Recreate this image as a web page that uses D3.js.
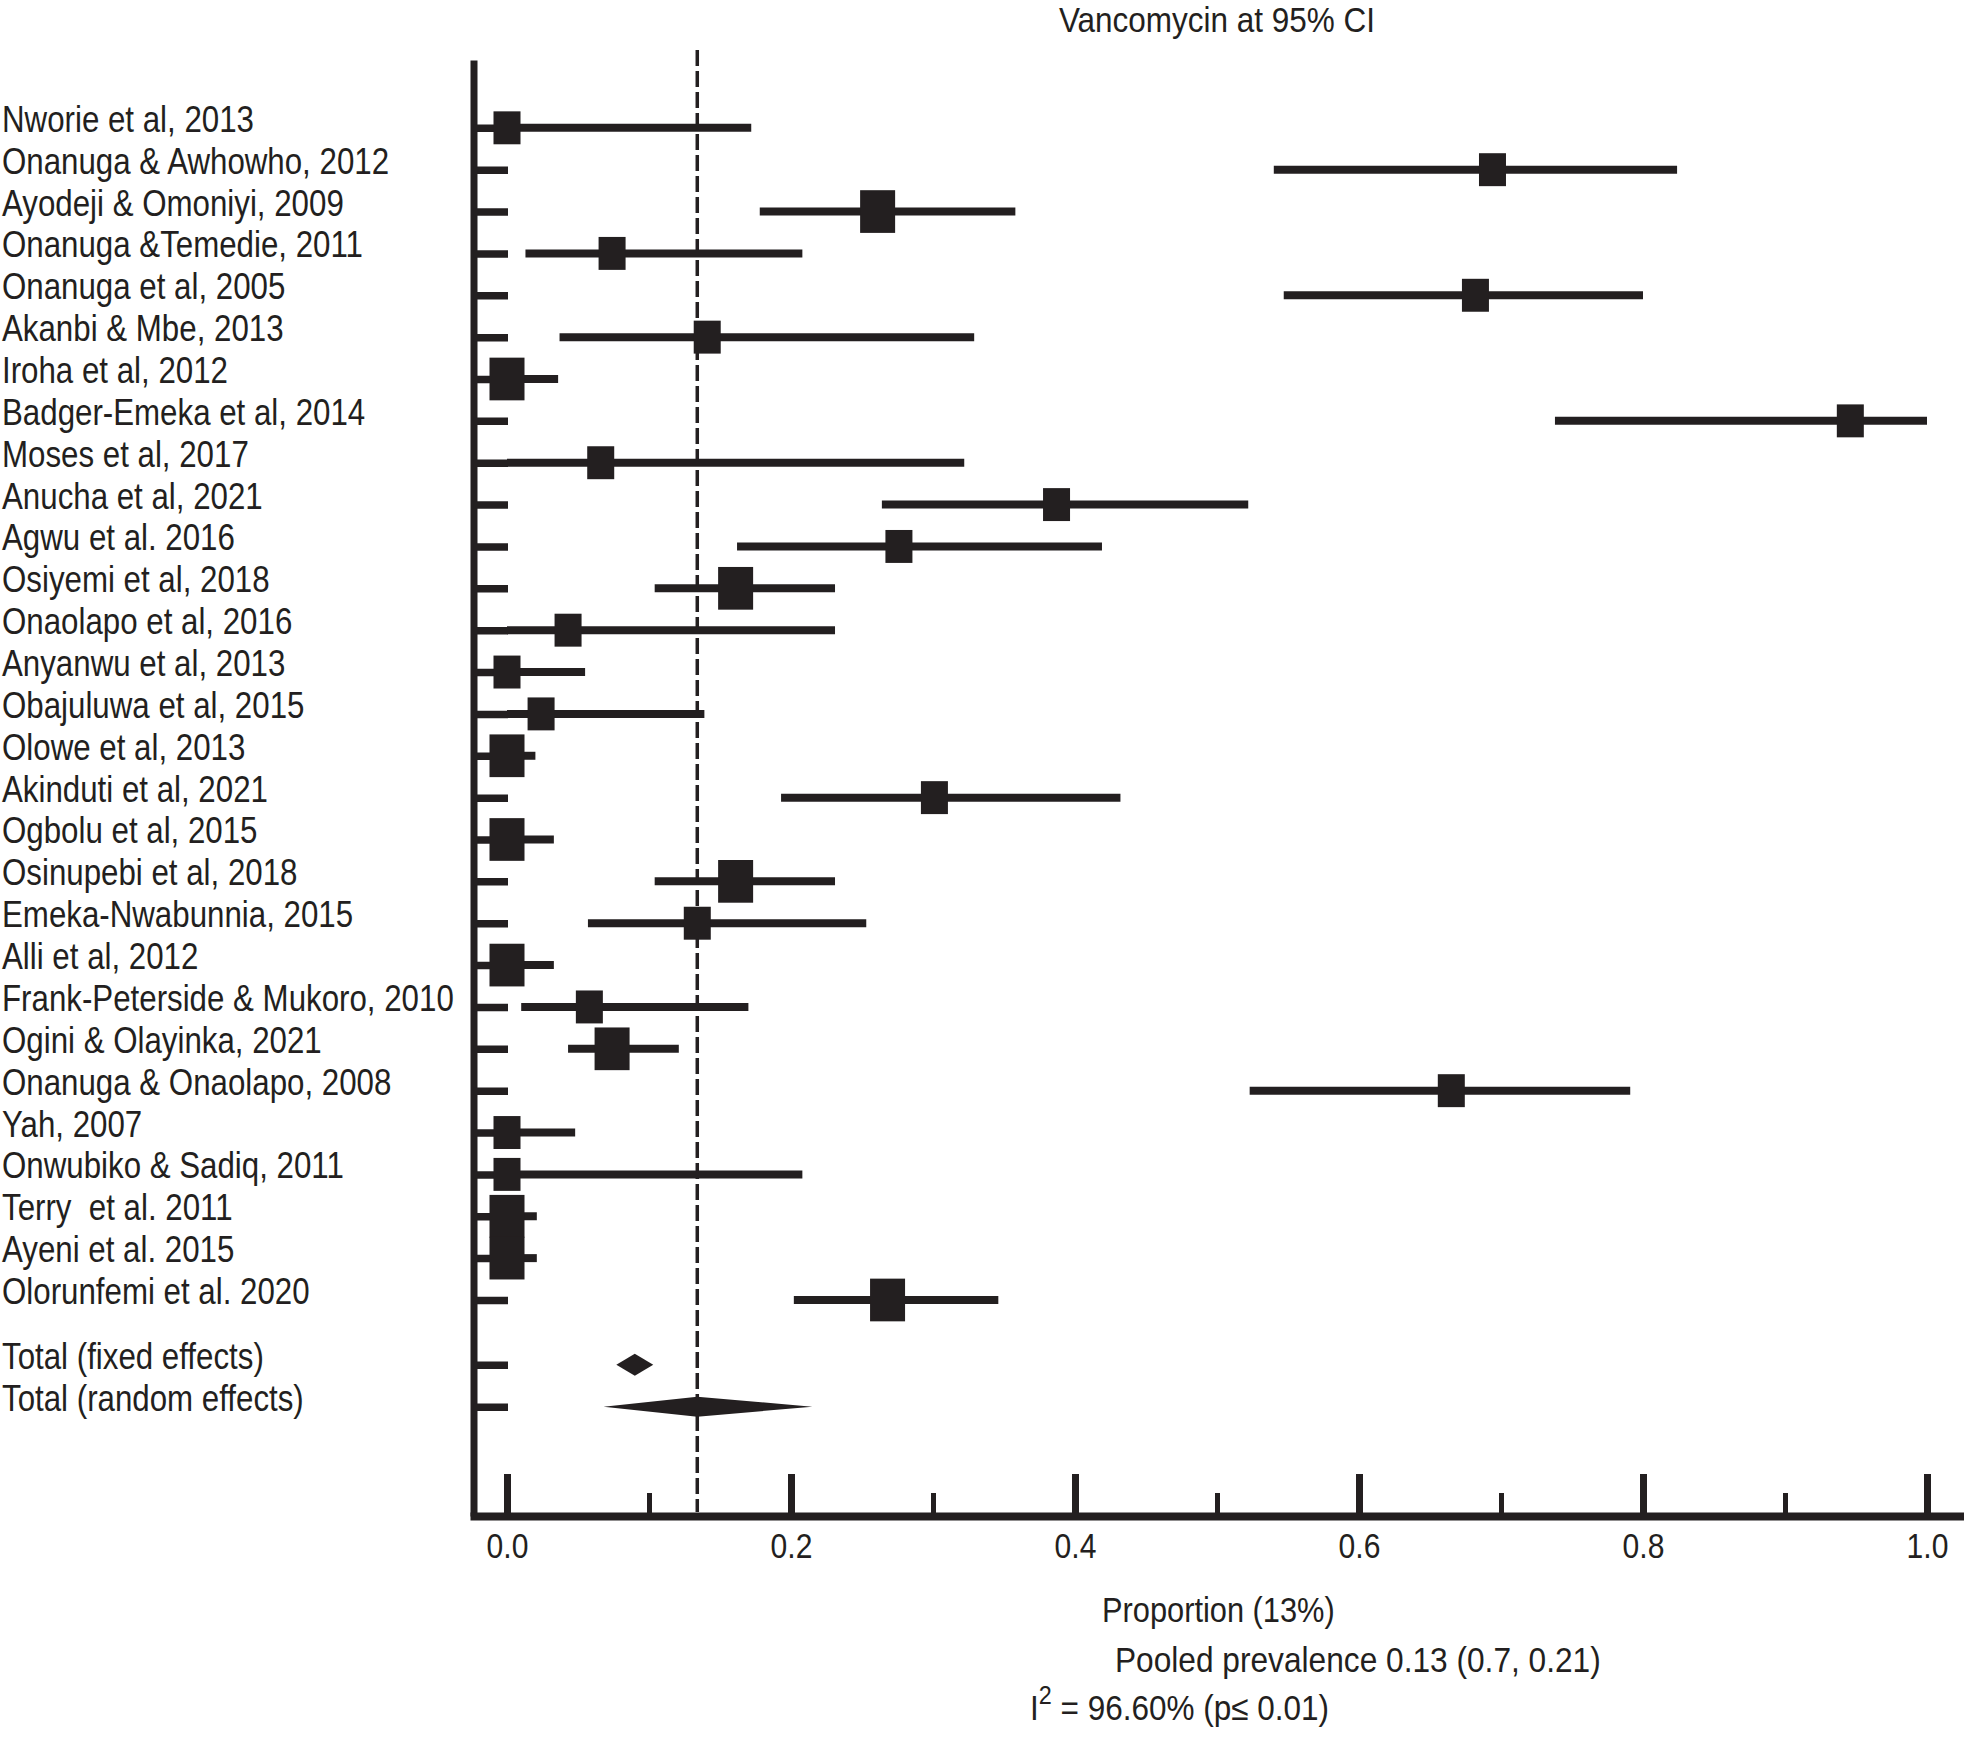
<!DOCTYPE html>
<html><head><meta charset="utf-8">
<script src="https://cdn.jsdelivr.net/npm/d3@7"></script>
<style>body{margin:0;background:#fff;} svg{display:block;}</style>
</head><body>
<svg id="chart" width="1964" height="1737"></svg>
<script>
// ---------- data ----------
const studies = [
  "Nworie et al, 2013","Onanuga & Awhowho, 2012","Ayodeji & Omoniyi, 2009","Onanuga &Temedie, 2011",
  "Onanuga et al, 2005","Akanbi & Mbe, 2013","Iroha et al, 2012","Badger-Emeka et al, 2014",
  "Moses et al, 2017","Anucha et al, 2021","Agwu et al. 2016","Osiyemi et al, 2018",
  "Onaolapo et al, 2016","Anyanwu et al, 2013","Obajuluwa et al, 2015","Olowe et al, 2013",
  "Akinduti et al, 2021","Ogbolu et al, 2015","Osinupebi et al, 2018","Emeka-Nwabunnia, 2015",
  "Alli et al, 2012","Frank-Peterside & Mukoro, 2010","Ogini & Olayinka, 2021","Onanuga & Onaolapo, 2008",
  "Yah, 2007","Onwubiko & Sadiq, 2011","Terry  et al. 2011","Ayeni et al. 2015","Olorunfemi et al. 2020"
];
const estimates = [0.0,0.694,0.261,0.074,0.682,0.141,0.0,0.946,0.066,0.387,0.276,0.161,0.043,0.0,0.024,0.0,
  0.301,0.0,0.161,0.134,0.0,0.058,0.074,0.665,0.0,0.0,0.0,0.0,0.268];
const lower = [0.0,0.540,0.178,0.013,0.547,0.037,0.0,0.738,0.0,0.264,0.162,0.104,0.0,0.0,0.0,0.0,
  0.193,0.0,0.104,0.057,0.0,0.010,0.043,0.523,0.0,0.0,0.0,0.0,0.202];
const upper = [0.172,0.824,0.358,0.208,0.800,0.329,0.036,1.0,0.322,0.522,0.419,0.231,0.231,0.055,0.139,0.020,
  0.432,0.033,0.231,0.253,0.033,0.170,0.121,0.791,0.048,0.208,0.021,0.021,0.346];
// relative study weight class (1 = smaller box, 2 = larger box)
const weightClass = [1,1,2,1,1,1,2,1,1,1,1,2,1,1,1,2,1,2,2,1,2,1,2,1,1,1,2,2,2];

const summaryLabels = ["Total (fixed effects)","Total (random effects)"];
const summaryEst = [0.090, 0.134];
const summaryLower = [0.077, 0.068];
const summaryUpper = [0.103, 0.215];
const pooledEstimate = 0.134;

const xTicksMajor = [0.0,0.2,0.4,0.6,0.8,1.0];
const xTicksMinor = [0.1,0.3,0.5,0.7,0.9];

const titleText = "Vancomycin at 95% CI";
const xAxisTitle = "Proportion (13%)";
const pooledText = "Pooled prevalence 0.13 (0.7, 0.21)";
const hetText = ["I", "2", " = 96.60% (p≤ 0.01)"];

// ---------- layout ----------
const ink = "#231f20";
const font = "'Liberation Sans', Arial, Helvetica, sans-serif";
const svg = d3.select("#chart");

const x = d3.scaleLinear().domain([0,1]).range([507,1927]);
const y = d3.scaleLinear().domain([-1.62,33.16]).range([60,1516]);
const axisLeftX = 473.5, axisBottomY = 1516, rightEdge = 1964;
const xExt = x.copy().domain([x.invert(470), x.invert(rightEdge)]).range([470, rightEdge]);

const studyRows = studies.map((d,i)=>i);
const summaryRows = [29.55, 30.55];
const allRows = studyRows.concat(summaryRows);
const boxW = d3.scaleOrdinal().domain([1,2]).range([27,35]);

// dashed pooled line
svg.append("line")
  .attr("x1", x(pooledEstimate)).attr("x2", x(pooledEstimate))
  .attr("y1", 50).attr("y2", axisBottomY-4)
  .attr("stroke", ink).attr("stroke-width", 3.5).attr("stroke-dasharray","16 5");

// left axis with row ticks
const gL = svg.append("g").attr("transform", `translate(${axisLeftX},0)`)
  .call(d3.axisLeft(y).tickValues(allRows).tickSize(-34.5).tickSizeOuter(0).tickFormat(""));
gL.select(".domain").attr("stroke", ink).attr("stroke-width", 7);
gL.selectAll(".tick line").attr("stroke", ink).attr("stroke-width", 7.5);

// bottom axis: major ticks with labels
const gB = svg.append("g").attr("transform", `translate(0,${axisBottomY})`)
  .call(d3.axisBottom(xExt).tickValues(xTicksMajor).tickSize(-42).tickSizeOuter(0).tickPadding(17).tickFormat(d3.format(".1f")));
gB.select(".domain").attr("stroke", ink).attr("stroke-width", 8);
gB.selectAll(".tick line").attr("stroke", ink).attr("stroke-width", 7);
gB.selectAll(".tick text").attr("fill", ink).attr("font-family", font).attr("font-size", 35)
  .attr("transform","scale(0.86,1)");
// minor ticks
const gM = svg.append("g").attr("transform", `translate(0,${axisBottomY})`)
  .call(d3.axisBottom(xExt).tickValues(xTicksMinor).tickSize(-23).tickFormat(""));
gM.select(".domain").remove();
gM.selectAll(".tick line").attr("stroke", ink).attr("stroke-width", 5);

// CI lines
svg.append("g").selectAll("line").data(studyRows).join("line")
  .attr("x1", i=>x(lower[i])).attr("x2", i=>x(upper[i]))
  .attr("y1", i=>y(i)).attr("y2", i=>y(i))
  .attr("stroke", ink).attr("stroke-width", 8);

// boxes
svg.append("g").selectAll("rect").data(studyRows).join("rect")
  .attr("x", i=>x(estimates[i]) - boxW(weightClass[i])/2)
  .attr("y", i=>y(i) - boxW(weightClass[i])*1.22/2)
  .attr("width", i=>boxW(weightClass[i]))
  .attr("height", i=>boxW(weightClass[i])*1.22)
  .attr("fill", ink);

// summary diamonds
const halfH = [11, 10];
svg.append("g").selectAll("path").data([0,1]).join("path")
  .attr("d", k=>{
    const yy = y(summaryRows[k]);
    return `M${x(summaryLower[k])},${yy}L${x(summaryEst[k])},${yy-halfH[k]}L${x(summaryUpper[k])},${yy}L${x(summaryEst[k])},${yy+halfH[k]}Z`;
  })
  .attr("fill", ink);

// row labels
const labels = studies.concat(summaryLabels);
svg.append("g").selectAll("text").data(allRows).join("text")
  .attr("transform", (r)=>`translate(2,${y(r)+4}) scale(0.845,1)`)
  .attr("font-family", font).attr("font-size", 37).attr("fill", ink)
  .attr("xml:space","preserve")
  .text((r,i)=>labels[i]);

// title
svg.append("text").attr("transform","translate(1217,32) scale(0.9,1)")
  .attr("text-anchor","middle").attr("font-family", font).attr("font-size", 35).attr("fill", ink)
  .text(titleText);

// bottom annotations
svg.append("text").attr("transform","translate(1102,1622) scale(0.88,1)")
  .attr("font-family", font).attr("font-size", 35).attr("fill", ink).text(xAxisTitle);
svg.append("text").attr("transform","translate(1115,1672) scale(0.905,1)")
  .attr("font-family", font).attr("font-size", 35).attr("fill", ink).text(pooledText);
const het = svg.append("text").attr("transform","translate(1030,1720) scale(0.9,1)")
  .attr("font-family", font).attr("font-size", 35).attr("fill", ink);
het.append("tspan").text(hetText[0]);
het.append("tspan").attr("font-size", 26).attr("dy", -16).text(hetText[1]);
het.append("tspan").attr("dy", 16).text(hetText[2]);
</script>
</body></html>
